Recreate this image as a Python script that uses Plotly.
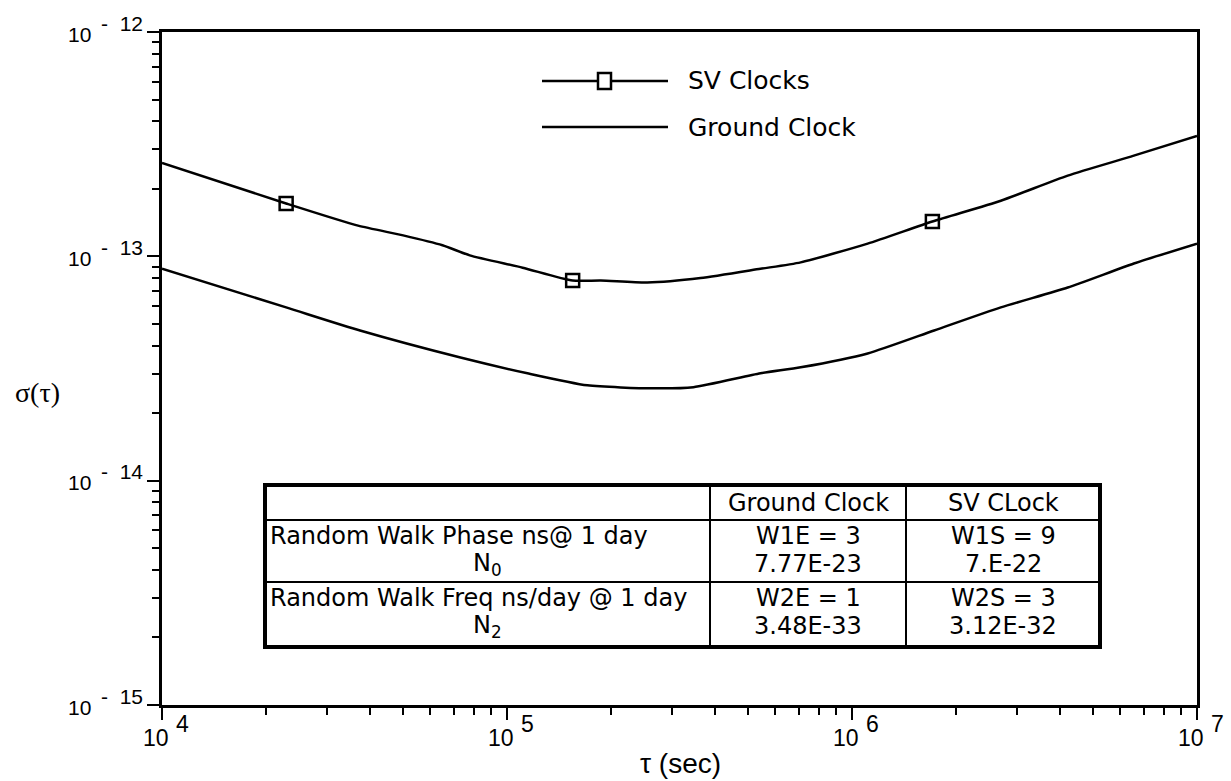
import math

import plotly.graph_objects as go

# ---------------------------------------------------------------------------
# Data
# ---------------------------------------------------------------------------

tau_sv = [1.0e4, 2.29e4, 3.7e4, 5.0e4, 6.5e4, 7.8e4, 1.11e5, 1.55e5, 1.87e5, 2.55e5,
          3.64e5, 5.43e5, 7.1e5, 1.11e6, 1.71e6, 2.7e6, 4.22e6, 6.56e6, 1.0e7]
sigma_sv = [2.61e-13, 1.72e-13, 1.37e-13, 1.24e-13, 1.12e-13, 1.01e-13, 8.9e-14, 7.8e-14,
            7.8e-14, 7.64e-14, 8.0e-14, 8.8e-14, 9.4e-14, 1.14e-13, 1.43e-13, 1.77e-13,
            2.29e-13, 2.81e-13, 3.44e-13]

marker_tau = [2.29e4, 1.55e5, 1.71e6]
marker_sigma = [1.72e-13, 7.8e-14, 1.43e-13]

tau_gnd = [1.0e4, 2.29e4, 3.75e4, 7.33e4, 1.146e5, 1.71e5, 2.65e5, 3.47e5, 5.43e5, 7.1e5,
           1.11e6, 1.73e6, 2.7e6, 4.22e6, 6.56e6, 1.0e7]
sigma_gnd = [8.81e-14, 5.92e-14, 4.67e-14, 3.54e-14, 3.01e-14, 2.66e-14, 2.58e-14, 2.61e-14,
             3.01e-14, 3.2e-14, 3.69e-14, 4.67e-14, 5.92e-14, 7.26e-14, 9.29e-14, 1.14e-13]

x_ticks = [1e4, 1e5, 1e6, 1e7]
x_exp = ["4", "5", "6", "7"]
y_ticks = [1e-15, 1e-14, 1e-13, 1e-12]
y_exp = ["-\u00a0\u00a015", "-\u00a0\u00a014", "-\u00a0\u00a013", "-\u00a0\u00a012"]

legend_names = ["SV Clocks", "Ground Clock"]

table_header = ["", "Ground Clock", "SV CLock"]
table_rows = [
    ["Random Walk Phase ns@ 1 day", "N<sub>0</sub>", "W1E = 3", "7.77E-23", "W1S = 9", "7.E-22"],
    ["Random Walk Freq ns/day @ 1 day", "N<sub>2</sub>", "W2E = 1", "3.48E-33", "W2S = 3", "3.12E-32"],
]

# ---------------------------------------------------------------------------
# Layout helpers (screen pixel -> paper)
# ---------------------------------------------------------------------------

W, H = 1231, 781
PL, PR, PT, PB = 162, 1197, 32, 705   # plot area


def px(x):
    return (x - PL) / (PR - PL)


def py(y):
    return (PB - y) / (PB - PT)


SANS = "Liberation Sans, Arial, sans-serif"
TABLE_FONT = dict(family="DejaVu Sans", size=24, color="black")
XTICK_FONT = dict(family=SANS, size=23, color="black")
YTICK_FONT = dict(family=SANS, size=21, color="black")

fig = go.Figure()

fig.add_trace(go.Scatter(
    x=tau_sv, y=sigma_sv, mode="lines", showlegend=False,
    line=dict(color="black", width=2.5, shape="spline", smoothing=0.6),
))
fig.add_trace(go.Scatter(
    x=marker_tau, y=marker_sigma, mode="markers", showlegend=False,
    marker=dict(symbol="square-open", size=13, color="black", line=dict(width=2.5)),
))
fig.add_trace(go.Scatter(
    x=tau_gnd, y=sigma_gnd, mode="lines", showlegend=False,
    line=dict(color="black", width=2.5, shape="spline", smoothing=0.6),
))

minor_x = [m * 10 ** e for e in range(4, 7) for m in range(2, 10)]
minor_y = [m * 10.0 ** e for e in range(-15, -12) for m in range(2, 10)]

axis_common = dict(
    type="log", showline=True, linecolor="black", linewidth=3, mirror=True,
    showgrid=False, zeroline=False, ticks="outside", ticklen=12, tickwidth=2,
    tickcolor="black", showticklabels=False,
)

fig.update_xaxes(
    range=[4, 7], tickmode="array", tickvals=x_ticks,
    minor=dict(tickmode="array", tickvals=minor_x, ticks="outside", ticklen=7,
               tickwidth=2, tickcolor="black", showgrid=False),
    **axis_common,
)
fig.update_yaxes(
    range=[-15, -12], tickmode="array", tickvals=y_ticks,
    minor=dict(tickmode="array", tickvals=minor_y, ticks="outside", ticklen=7,
               tickwidth=2, tickcolor="black", showgrid=False),
    **axis_common,
)

shapes = []
annotations = []


def note(x, y, text, font, xanchor="center"):
    annotations.append(dict(x=px(x), y=py(y), xref="paper", yref="paper", text=text,
                            showarrow=False, xanchor=xanchor, yanchor="middle", font=font))


# tick labels: "10" with a raised exponent of nearly the same size
for val, ex in zip(x_ticks, x_exp):
    annotations.append(dict(x=math.log10(val), xref="x", y=py(738), yref="paper",
                            text="10", showarrow=False, xanchor="right", yanchor="middle",
                            xshift=9, font=XTICK_FONT))
    annotations.append(dict(x=math.log10(val), xref="x", y=py(724), yref="paper",
                            text=ex, showarrow=False, xanchor="left", yanchor="middle",
                            xshift=12, font=XTICK_FONT))
for val, ex in zip(y_ticks, y_exp):
    annotations.append(dict(x=px(93), xref="paper", y=math.log10(val), yref="y",
                            text="10", showarrow=False, xanchor="right", yanchor="middle",
                            yshift=-2, font=YTICK_FONT))
    annotations.append(dict(x=px(99), xref="paper", y=math.log10(val), yref="y",
                            text=ex, showarrow=False, xanchor="left", yanchor="middle",
                            yshift=9, font=YTICK_FONT))

# axis titles
note(37, 392, "σ(τ)",
     dict(family="Liberation Serif, Times New Roman, serif", size=28, color="black"))
note(680, 764, "τ (sec)", dict(family=SANS, size=28, color="black"))

# legend drawn by hand so the sample lines are long like the original
leg_y = [81, 127]
for name, yy in zip(legend_names, leg_y):
    shapes.append(dict(type="line", xref="paper", yref="paper",
                       x0=px(542), x1=px(668), y0=py(yy), y1=py(yy),
                       line=dict(color="black", width=2.5)))
    note(686, yy, name, dict(family="DejaVu Sans", size=25, color="black"), xanchor="left")
shapes.append(dict(type="rect", xref="paper", yref="paper",
                   x0=px(598), x1=px(611), y0=py(89), y1=py(73),
                   fillcolor="white", line=dict(color="black", width=2.5)))

# table
tx0, tx1, tc1, tc2 = 265, 1100, 710, 906
ty0, ty_head, ty_mid, ty1 = 485, 520, 582, 647
shapes.append(dict(type="rect", xref="paper", yref="paper", layer="below",
                   x0=px(tx0), x1=px(tx1), y0=py(ty1), y1=py(ty0),
                   fillcolor="white", line=dict(width=0)))
for yy in (ty_head, ty_mid):
    shapes.append(dict(type="line", xref="paper", yref="paper",
                       x0=px(tx0), x1=px(tx1), y0=py(yy), y1=py(yy),
                       line=dict(color="black", width=2)))
for xx in (tc1, tc2):
    shapes.append(dict(type="line", xref="paper", yref="paper",
                       x0=px(xx), x1=px(xx), y0=py(ty0), y1=py(ty1),
                       line=dict(color="black", width=2)))
shapes.append(dict(type="rect", xref="paper", yref="paper",
                   x0=px(tx0), x1=px(tx1), y0=py(ty1), y1=py(ty0),
                   line=dict(color="black", width=4)))

col_centers = [(tx0 + tc1) / 2, (tc1 + tc2) / 2, (tc2 + tx1) / 2]
for text, cx in zip(table_header, col_centers):
    if text:
        note(cx, (ty0 + ty_head) / 2 + 1, text, TABLE_FONT)

row_tops = [ty_head, ty_mid]
for row, top in zip(table_rows, row_tops):
    l1, l2 = top + 16, top + 44
    note(tx0 + 3, l1, row[0], TABLE_FONT, xanchor="left")
    note(col_centers[0], l2, row[1], TABLE_FONT)
    for k, cx in enumerate(col_centers[1:]):
        note(cx, l1, row[2 + 2 * k], TABLE_FONT)
        note(cx, l2, row[3 + 2 * k], TABLE_FONT)

fig.update_layout(
    width=W, height=H,
    margin=dict(l=PL, r=W - PR, t=PT, b=H - PB),
    paper_bgcolor="white", plot_bgcolor="white",
    shapes=shapes, annotations=annotations,
    showlegend=False,
)

# drop the default 8px body margin so the figure sits flush in the window
fig.write_html("out.html",
               config={"displayModeBar": False},
               post_script="document.body.style.margin='0';"
                           "document.body.style.overflow='hidden';")
